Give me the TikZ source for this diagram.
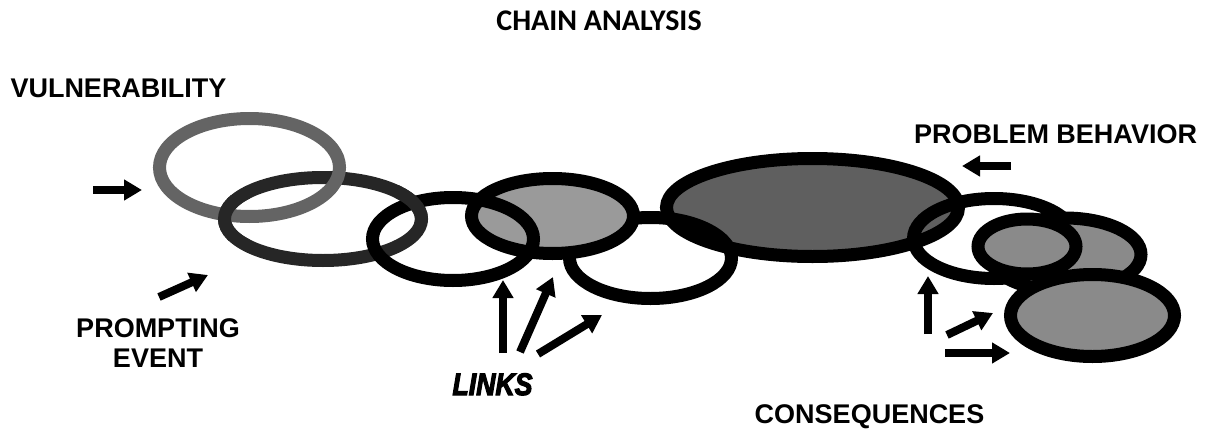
\documentclass[tikz,border=0pt]{standalone}
\usepackage{fontspec}
\usetikzlibrary{arrows.meta}
\newfontfamily\labelsans{Liberation Sans}
\newfontfamily\linksfont{Liberation Sans}[BoldItalicFeatures={FakeBold=4}]
\newfontfamily\titlesans{Carlito}
\definecolor{vulngray}{HTML}{646464}
\definecolor{promptdark}{HTML}{262626}
\definecolor{linkfill}{HTML}{9A9A9A}
\definecolor{behavfill}{HTML}{5F5F5F}
\definecolor{consfill}{HTML}{8A8A8A}
\tikzset{
  ring/.style={line width=13pt},
  blockarrow/.style={line width=8pt, -{Triangle[length=18pt,width=20pt]}},
  lbl/.style={font={\labelsans\bfseries\fontsize{27}{30}\selectfont}, inner sep=0pt, anchor=base},
  titlelbl/.style={font={\titlesans\bfseries\fontsize{30}{34}\selectfont}, inner sep=0pt, anchor=base},
  linkslbl/.style={font={\linksfont\bfseries\itshape\fontsize{31}{31}\selectfont}, inner sep=0pt, anchor=base},
}
\begin{document}
\begin{tikzpicture}[x=1pt,y=-1pt]
\useasboundingbox (0,0) rectangle (1210,431);
% centres of the chain links
\coordinate (vul) at (249.5,167.5);
\coordinate (pro) at (323,219);
\coordinate (la) at (453,239);
\coordinate (lb) at (552.5,216);
\coordinate (lc) at (650.5,258);
\coordinate (beh) at (812.5,207.5);
\coordinate (ca) at (994,238.5);
\coordinate (cb) at (1065,254.5);
\coordinate (cc) at (1027,246.5);
\coordinate (cd) at (1092.5,315.5);

% vulnerability and prompting event, interlocked
\draw[ring,promptdark] (pro) ellipse [x radius=98.5,y radius=41.5];
\draw[ring,vulngray] (vul) ellipse [x radius=90,y radius=49];
\begin{scope}
  \clip (205,195) rectangle (250,240);
  \draw[ring,promptdark] (pro) ellipse [x radius=98.5,y radius=41.5];
\end{scope}

% links
\draw[ring] (lc) ellipse [x radius=81,y radius=40.5];
\fill[linkfill] (lb) ellipse [x radius=81,y radius=37.5];
\draw[ring] (la) ellipse [x radius=80.5,y radius=41.5];
\begin{scope}
  \clip (395,185) rectangle (435,222);
  \draw[ring,promptdark] (pro) ellipse [x radius=98.5,y radius=41.5];
\end{scope}
\draw[ring] (lb) ellipse [x radius=81,y radius=37.5];

% problem behaviour
\fill[behavfill] (beh) ellipse [x radius=146,y radius=49];
\begin{scope}
  \clip (lc) ellipse [x radius=87.5,y radius=47];
  \fill[black] (beh) ellipse [x radius=146,y radius=49];
\end{scope}
\draw[ring] (beh) ellipse [x radius=146,y radius=49];

% consequences
\draw[ring] (ca) ellipse [x radius=80.5,y radius=40];
\draw[ring,fill=consfill] (cb) ellipse [x radius=76,y radius=36.5];
\draw[ring,fill=consfill] (cc) ellipse [x radius=49,y radius=27.5];
\draw[ring,fill=consfill] (cd) ellipse [x radius=82,y radius=41];

% labels
\node[titlelbl] (title) at (599,30) {CHAIN ANALYSIS};
\node[lbl] (vulnlbl) at (118.5,97) {VULNERABILITY};
\node[lbl] (behlbl) at (1055.5,143) {PROBLEM BEHAVIOR};
\node[lbl,anchor=center,align=center] (prolbl) at (158,343.5) {PROMPTING\\EVENT};
\node[linkslbl] (linkslbl) at (492.5,395) {\scalebox{0.86}[1]{LINKS}};
\node[lbl] (conslbl) at (869.5,423) {CONSEQUENCES};

% arrows
\coordinate (v0) at (93,190);   \coordinate (v1) at (142,190);
\coordinate (p0) at (159,297);  \coordinate (p1) at (208,275);
\coordinate (k0) at (503,353);  \coordinate (k1) at (503,280);
\coordinate (m0) at (520,352);  \coordinate (m1) at (553,277);
\coordinate (n0) at (538,354);  \coordinate (n1) at (602,315);
\coordinate (b0) at (1011,166); \coordinate (b1) at (962,166);
\coordinate (c0) at (928,334);  \coordinate (c1) at (928,276);
\coordinate (d0) at (947,335);  \coordinate (d1) at (993,313);
\coordinate (e0) at (945,353);  \coordinate (e1) at (1010,353);
\foreach \s/\t in {v0/v1,p0/p1,k0/k1,m0/m1,n0/n1,b0/b1,c0/c1,d0/d1,e0/e1}
  \draw[blockarrow] (\s) -- (\t);
\end{tikzpicture}
\end{document}
